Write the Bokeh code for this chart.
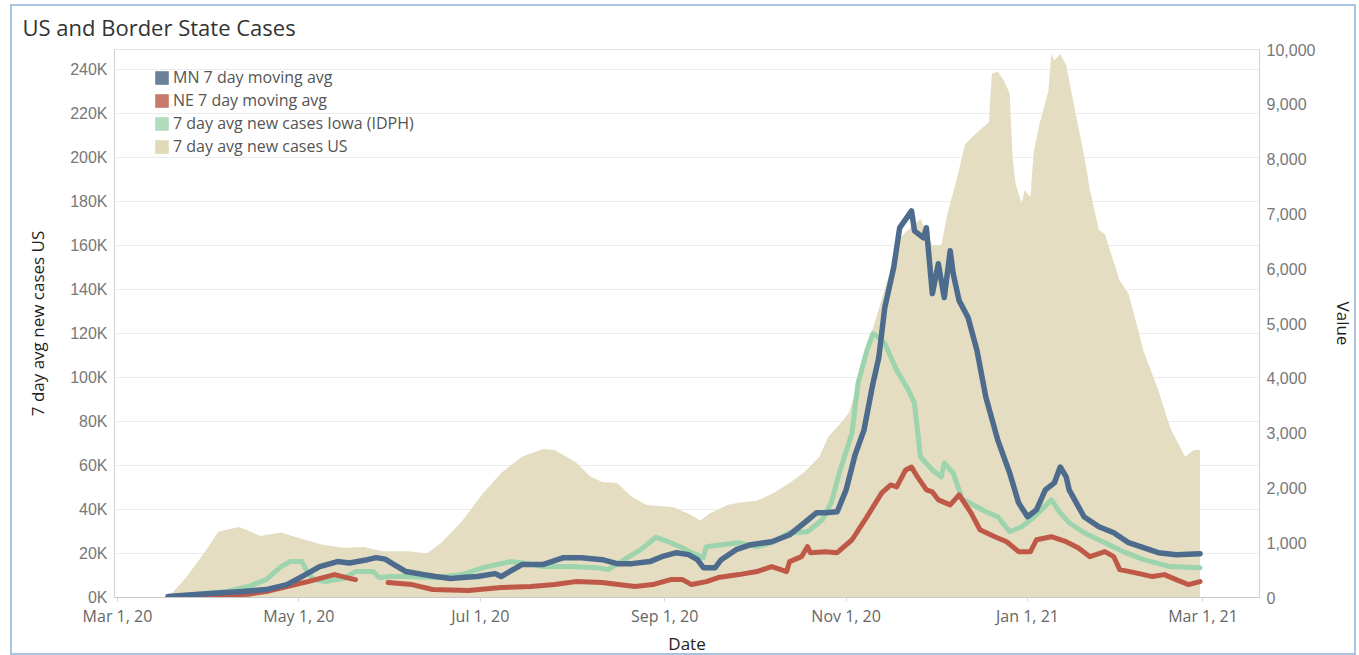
import numpy as np
import pandas as pd
from bokeh.plotting import figure
from bokeh.models import (Range1d, LinearAxis, FixedTicker, Legend, LegendItem,
                          NumeralTickFormatter)
from bokeh.embed import file_html
from bokeh.resources import INLINE

NAN = float("nan")

# ---------------- data ----------------
us_dates = ["2020-03-18", "2020-03-24", "2020-03-30", "2020-04-04", "2020-04-11", "2020-04-18",
            "2020-04-25", "2020-05-01", "2020-05-09", "2020-05-16", "2020-05-23", "2020-05-29",
            "2020-06-07", "2020-06-13", "2020-06-18", "2020-06-25", "2020-07-02", "2020-07-08",
            "2020-07-15", "2020-07-22", "2020-07-26", "2020-08-02", "2020-08-07", "2020-08-11",
            "2020-08-16", "2020-08-21", "2020-08-26", "2020-08-30", "2020-09-04", "2020-09-09",
            "2020-09-13", "2020-09-16", "2020-09-22", "2020-09-26", "2020-10-02", "2020-10-07",
            "2020-10-13", "2020-10-18", "2020-10-23", "2020-10-26", "2020-10-30", "2020-11-02",
            "2020-11-05", "2020-11-09", "2020-11-14", "2020-11-19", "2020-11-21", "2020-11-26",
            "2020-11-30", "2020-12-03", "2020-12-05", "2020-12-08", "2020-12-11", "2020-12-14",
            "2020-12-19", "2020-12-20", "2020-12-22", "2020-12-24", "2020-12-26", "2020-12-27",
            "2020-12-28", "2020-12-30", "2020-12-31", "2021-01-02", "2021-01-03", "2021-01-05",
            "2021-01-08", "2021-01-09", "2021-01-10", "2021-01-12", "2021-01-14", "2021-01-17",
            "2021-01-20", "2021-01-22", "2021-01-25", "2021-01-27", "2021-02-01", "2021-02-04",
            "2021-02-09", "2021-02-14", "2021-02-18", "2021-02-23", "2021-02-26", "2021-02-28"]
us_cases = [0, 9000, 20000, 30000, 32000, 28000,
            29500, 27000, 24000, 22600, 23000, 21000,
            21000, 20000, 25000, 35000, 47500, 56600,
            64000, 67500, 67000, 61600, 55000, 52500,
            52000, 45700, 42000, 41600, 41000, 38000,
            35000, 38000, 42000, 43000, 44000, 47000,
            52000, 57000, 64000, 73000, 79000, 84000,
            98000, 118000, 140000, 163000, 166000, 172000,
            160000, 160000, 174000, 189000, 206000, 210000,
            216000, 238000, 239000, 235000, 229000, 200000,
            188000, 179000, 185000, 182000, 202000, 215000,
            230000, 247000, 244000, 247000, 242000, 221000,
            201000, 185000, 167000, 165000, 144000, 138000,
            112000, 94000, 77000, 64000, 67000, 67000]

mn_dates = ["2020-03-18", "2020-04-01", "2020-04-12", "2020-04-20", "2020-04-27", "2020-05-02",
            "2020-05-08", "2020-05-14", "2020-05-18", "2020-05-24", "2020-05-27", "2020-05-30",
            "2020-06-02", "2020-06-06", "2020-06-12", "2020-06-16", "2020-06-21", "2020-06-25",
            "2020-06-30", "2020-07-06", "2020-07-08", "2020-07-12", "2020-07-15", "2020-07-22",
            "2020-07-29", "2020-08-04", "2020-08-11", "2020-08-16", "2020-08-21", "2020-08-27",
            "2020-08-31", "2020-09-05", "2020-09-09", "2020-09-12", "2020-09-14", "2020-09-18",
            "2020-09-20", "2020-09-25", "2020-09-30", "2020-10-07", "2020-10-13", "2020-10-18",
            "2020-10-22", "2020-10-25", "2020-10-29", "2020-11-01", "2020-11-04", "2020-11-07",
            "2020-11-10", "2020-11-12", "2020-11-14", "2020-11-17", "2020-11-19", "2020-11-23",
            "2020-11-24", "2020-11-27", "2020-11-28", "2020-11-30", "2020-12-02", "2020-12-04",
            "2020-12-06", "2020-12-07", "2020-12-09", "2020-12-12", "2020-12-15", "2020-12-18",
            "2020-12-22", "2020-12-26", "2020-12-29", "2021-01-01", "2021-01-04", "2021-01-07",
            "2021-01-10", "2021-01-12", "2021-01-14", "2021-01-15", "2021-01-20", "2021-01-25",
            "2021-01-30", "2021-02-04", "2021-02-09", "2021-02-14", "2021-02-20", "2021-02-28"]
mn_values = [20, 73, 110, 145, 236, 382,
             564, 655, 630, 690, 727, 700,
             600, 473, 418, 382, 345, 364,
             382, 436, 382, 509, 600, 600,
             727, 727, 690, 618, 618, 655,
             745, 818, 782, 690, 545, 545,
             690, 873, 964, 1018, 1145, 1364,
             1545, 1545, 1564, 1964, 2600, 3054,
             3900, 4380, 5290, 6018, 6745, 7054,
             6690, 6563, 6745, 5545, 6090, 5472,
             6327, 5909, 5418, 5109, 4509, 3654,
             2872, 2272, 1727, 1473, 1600, 1964,
             2091, 2381, 2200, 1964, 1473, 1291,
             1182, 1000, 909, 818, 782, 800]

ne_dates = ["2020-03-20", "2020-04-14", "2020-04-21", "2020-04-27", "2020-05-04", "2020-05-13",
            "2020-05-17", "2020-05-20", "2020-05-25", "2020-05-31", "2020-06-08", "2020-06-15",
            "2020-06-27", "2020-07-08", "2020-07-18", "2020-07-26", "2020-08-02", "2020-08-11",
            "2020-08-22", "2020-08-28", "2020-09-03", "2020-09-07", "2020-09-10", "2020-09-15",
            "2020-09-19", "2020-09-26", "2020-10-02", "2020-10-07", "2020-10-12", "2020-10-13",
            "2020-10-17", "2020-10-19", "2020-10-20", "2020-10-25", "2020-10-29", "2020-11-03",
            "2020-11-08", "2020-11-13", "2020-11-16", "2020-11-18", "2020-11-21", "2020-11-23",
            "2020-11-25", "2020-11-28", "2020-11-30", "2020-12-02", "2020-12-06", "2020-12-09",
            "2020-12-13", "2020-12-16", "2020-12-21", "2020-12-25", "2020-12-29", "2021-01-02",
            "2021-01-04", "2021-01-09", "2021-01-14", "2021-01-18", "2021-01-22", "2021-01-27",
            "2021-01-30", "2021-02-01", "2021-02-06", "2021-02-12", "2021-02-16", "2021-02-20",
            "2021-02-24", "2021-02-28"]
ne_values = [10, 60, 120, 200, 290, 418,
             364, 327, NAN, 272, 236, 145,
             127, 182, 200, 236, 290, 272,
             200, 236, 327, 327, 236, 290,
             364, 418, 473, 564, 473, 655,
             745, 927, 818, 836, 818, 1054,
             1473, 1909, 2054, 2018, 2327, 2381,
             2200, 1964, 1927, 1782, 1690, 1873,
             1545, 1236, 1109, 1018, 836, 836,
             1054, 1109, 1018, 909, 745, 836,
             745, 509, 454, 382, 418, 327,
             236, 290]

ia_dates = ["2020-03-18", "2020-04-07", "2020-04-14", "2020-04-20", "2020-04-25", "2020-04-28",
            "2020-05-02", "2020-05-04", "2020-05-06", "2020-05-10", "2020-05-16", "2020-05-20",
            "2020-05-26", "2020-05-28", "2020-06-01", "2020-06-07", "2020-06-16", "2020-06-25",
            "2020-07-02", "2020-07-11", "2020-07-15", "2020-07-22", "2020-07-31", "2020-08-09",
            "2020-08-13", "2020-08-20", "2020-08-24", "2020-08-29", "2020-09-03", "2020-09-07",
            "2020-09-10", "2020-09-14", "2020-09-15", "2020-09-20", "2020-09-26", "2020-10-02",
            "2020-10-07", "2020-10-13", "2020-10-19", "2020-10-24", "2020-10-27", "2020-10-30",
            "2020-11-03", "2020-11-05", "2020-11-08", "2020-11-10", "2020-11-12", "2020-11-14",
            "2020-11-18", "2020-11-22", "2020-11-24", "2020-11-26", "2020-11-30", "2020-12-03",
            "2020-12-04", "2020-12-07", "2020-12-10", "2020-12-18", "2020-12-22", "2020-12-26",
            "2020-12-30", "2021-01-03", "2021-01-09", "2021-01-12", "2021-01-15", "2021-01-20",
            "2021-01-27", "2021-02-03", "2021-02-09", "2021-02-18", "2021-02-28"]
ia_values = [10, 110, 200, 327, 564, 655,
             655, 454, 327, 290, 345, 473,
             473, 364, 382, 382, 364, 418,
             545, 655, 636, 564, 564, 545,
             509, 745, 873, 1100, 1000, 909,
             818, 727, 927, 964, 1000, 927,
             1000, 1182, 1200, 1418, 1727, 2327,
             3000, 3909, 4509, 4818, 4745, 4636,
             4145, 3782, 3545, 2564, 2327, 2200,
             2454, 2272, 1800, 1564, 1473, 1200,
             1291, 1454, 1782, 1545, 1364, 1182,
             1000, 818, 690, 564, 545]

x_tick_dates = ["2020-03-01", "2020-05-01", "2020-07-01", "2020-09-01",
                "2020-11-01", "2021-01-01", "2021-03-01"]
x_tick_labels = ["Mar 1, 20", "May 1, 20", "Jul 1, 20", "Sep 1, 20",
                 "Nov 1, 20", "Jan 1, 21", "Mar 1, 21"]
left_ticks = [0, 20000, 40000, 60000, 80000, 100000, 120000,
              140000, 160000, 180000, 200000, 220000, 240000]
left_tick_labels = ["0K", "20K", "40K", "60K", "80K", "100K", "120K",
                    "140K", "160K", "180K", "200K", "220K", "240K"]
right_ticks = [0, 1000, 2000, 3000, 4000, 5000, 6000, 7000, 8000, 9000, 10000]

series_names = ["MN 7 day moving avg", "NE 7 day moving avg",
                "7 day avg new cases Iowa (IDPH)", "7 day avg new cases US"]
chart_title = "US and Border State Cases"

# ---------------- styling ----------------
C_MN, C_NE, C_IA, C_US = "#4d6b8c", "#bf5847", "#9dd4ad", "#e4ddc1"
L_MN, L_NE, L_IA, L_US = "#6b8099", "#c77a6c", "#b2dcbe", "#e1daba"

def ts(d):
    return pd.to_datetime(d)

def ms(d):
    return int(pd.Timestamp(d).value // 10**6)

p = figure(width=1346, height=651, x_axis_type="datetime",
           x_range=Range1d(ts("2020-02-29"), ts("2021-03-20")),
           y_range=Range1d(0, 249000),
           output_backend="svg", toolbar_location=None,
           min_border_left=102, min_border_right=93,
           min_border_top=42, min_border_bottom=55)
p.margin = (4, 0, 0, 10)
p.styles = {"border": "2px solid #a9c4e0"}
p.background_fill_color = "white"
p.border_fill_color = "white"
p.outline_line_color = "#e3e3e3"
p.extra_y_ranges = {"right": Range1d(0, 10000)}

p.title.text = chart_title
p.title.align = "left"
p.title.vertical_align = "top"
p.title.offset = -92
p.title.standoff = 11
p.title.text_font = "Open Sans"
p.title.text_font_size = "22px"
p.title.text_font_style = "normal"
p.title.text_color = "#333333"

# area + lines
p.varea(x=ts(us_dates), y1=0, y2=us_cases, fill_color=C_US)
r_ia = p.line(ts(ia_dates), ia_values, y_range_name="right", line_color=C_IA,
              line_width=5, line_join="round", line_cap="round")
r_ne = p.line(ts(ne_dates), ne_values, y_range_name="right", line_color=C_NE,
              line_width=5, line_join="round", line_cap="round")
r_mn = p.line(ts(mn_dates), mn_values, y_range_name="right", line_color=C_MN,
              line_width=5.5, line_join="round", line_cap="round")

# axes
xa = p.xaxis[0]
xa.ticker = FixedTicker(ticks=[ms(d) for d in x_tick_dates])
xa.major_label_overrides = {ms(d): lbl for d, lbl in zip(x_tick_dates, x_tick_labels)}
xa.axis_label = "Date"
xa.axis_line_color = "#c8c8c8"
xa.major_tick_line_color = "#d6d6d6"
xa.major_tick_out = 4
xa.major_tick_in = 0
xa.minor_tick_line_color = None
xa.major_label_standoff = 3
xa.major_label_text_font = "Open Sans"
xa.major_label_text_font_size = "16px"
xa.major_label_text_color = "#666666"
xa.axis_label_standoff = 2
xa.axis_label_text_font = "Open Sans"
xa.axis_label_text_font_size = "17px"
xa.axis_label_text_font_style = "normal"
xa.axis_label_text_color = "#1e1e1e"

ya = p.yaxis[0]
ya.ticker = FixedTicker(ticks=left_ticks)
ya.major_label_overrides = {v: lbl for v, lbl in zip(left_ticks, left_tick_labels)}
ya.axis_label = "7 day avg new cases US"
ya.axis_line_color = "#d2d2d2"
ya.major_tick_line_color = None
ya.minor_tick_line_color = None
ya.major_tick_out = 0
ya.major_label_standoff = 7
ya.major_label_text_font = "Liberation Sans"
ya.major_label_text_font_size = "16px"
ya.major_label_text_color = "#777777"
ya.axis_label_standoff = 18
ya.axis_label_text_font = "Open Sans"
ya.axis_label_text_font_size = "17px"
ya.axis_label_text_font_style = "normal"
ya.axis_label_text_color = "#1e1e1e"

ra = LinearAxis(y_range_name="right", ticker=FixedTicker(ticks=right_ticks),
                formatter=NumeralTickFormatter(format="0,0"), axis_label="Value")
ra.axis_line_color = "#d2d2d2"
ra.major_tick_line_color = None
ra.minor_tick_line_color = None
ra.major_tick_out = 0
ra.major_label_standoff = 7
ra.major_label_text_font = "Liberation Sans"
ra.major_label_text_font_size = "16px"
ra.major_label_text_color = "#777777"
ra.axis_label_standoff = 14
ra.axis_label_orientation = "vertical"
ra.axis_label_text_font = "Open Sans"
ra.axis_label_text_font_size = "17px"
ra.axis_label_text_font_style = "normal"
ra.axis_label_text_color = "#1e1e1e"
p.add_layout(ra, "right")

p.xgrid.visible = False
p.ygrid.ticker = FixedTicker(ticks=left_ticks)
p.ygrid.grid_line_color = "#ececec"

# legend (square swatches drawn by hidden bar renderers over the same data)
sw_mn = p.vbar(x=ts(mn_dates), top=mn_values, width=1, y_range_name="right",
               fill_color=L_MN, line_color=None, visible=False)
sw_ne = p.vbar(x=ts(ne_dates), top=ne_values, width=1, y_range_name="right",
               fill_color=L_NE, line_color=None, visible=False)
sw_ia = p.vbar(x=ts(ia_dates), top=ia_values, width=1, y_range_name="right",
               fill_color=L_IA, line_color=None, visible=False)
sw_us = p.vbar(x=ts(us_dates), top=us_cases, width=1,
               fill_color=L_US, line_color=None, visible=False)
swatches = [sw_mn, sw_ne, sw_ia, sw_us]
legend = Legend(items=[LegendItem(label=n, renderers=[r]) for n, r in zip(series_names, swatches)],
                location=(34, 435))
legend.background_fill_alpha = 0
legend.border_line_alpha = 0
legend.inactive_fill_alpha = 0
legend.label_text_font = "Open Sans"
legend.label_text_font_size = "16px"
legend.label_text_color = "#555555"
legend.glyph_width = 17
legend.glyph_height = 17
legend.label_height = 20
legend.spacing = 1
legend.padding = 5
legend.margin = 0
legend.label_standoff = 3
p.add_layout(legend)

open("out.html", "w").write(file_html(p, INLINE))
